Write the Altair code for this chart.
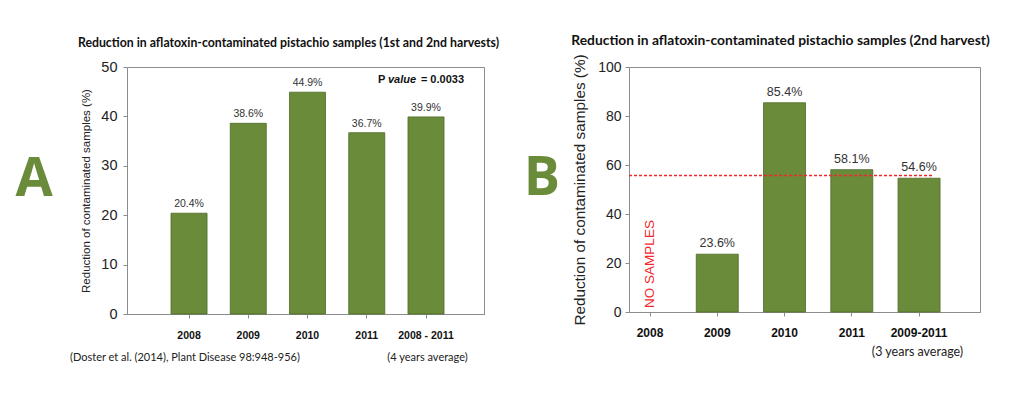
import altair as alt
import pandas as pd

# ---------------- data ----------------
cats_a = ["2008", "2009", "2010", "2011", "2008 - 2011"]
vals_a = [20.4, 38.6, 44.9, 36.7, 39.9]
labels_a = ["20.4%", "38.6%", "44.9%", "36.7%", "39.9%"]

cats_b = ["2008", "2009", "2010", "2011", "2009-2011"]
bar_cats_b = ["2009", "2010", "2011", "2009-2011"]
vals_b = [23.6, 85.4, 58.1, 54.6]
labels_b = ["23.6%", "85.4%", "58.1%", "54.6%"]
avg_b = 55.7

title_a = "Reduction in aflatoxin-contaminated pistachio samples (1st and 2nd harvests)"
title_b = "Reduction in aflatoxin-contaminated pistachio samples (2nd harvest)"
y_title = "Reduction of contaminated samples (%)"
note_a = "(Doster et al. (2014), Plant Disease 98:948-956)"
note_a2 = "(4 years average)"
note_b = "(3 years average)"
no_samples = "NO SAMPLES"

# ---------------- styles ----------------
GREEN = "#6a8b3a"
EDGE = "#4d6a27"
GRAY = "#8c8c8c"
RED = "#f0282d"
ARIAL = "Liberation Sans"
MYRIAD = "Lato"

df_a = pd.DataFrame({"cat": cats_a, "val": vals_a, "lab": labels_a})
df_b = pd.DataFrame({"cat": bar_cats_b, "val": vals_b, "lab": labels_b})


def note(text, x, y, **kw):
    return alt.Chart(pd.DataFrame({"t": [text]})).mark_text(**kw).encode(
        x=alt.value(x), y=alt.value(y), text="t:N"
    )


# ---------------- panel A ----------------
xa = alt.X(
    "cat:N",
    sort=cats_a,
    scale=alt.Scale(domain=cats_a, paddingInner=0.392, paddingOuter=0.709, align=0.524),
    axis=alt.Axis(
        title=None, labelAngle=0, labelFont=ARIAL, labelFontWeight="bold",
        labelFontSize=10.5, labelColor="#111", labelPadding=12, tickSize=4,
        tickColor=GRAY, domainColor=GRAY,
    ),
)
ya = alt.Y(
    "val:Q",
    scale=alt.Scale(domain=[0, 50]),
    axis=alt.Axis(
        title=y_title, values=[0, 10, 20, 30, 40, 50], grid=False,
        labelFont=ARIAL, labelFontSize=14.5, labelColor="#222", labelPadding=6,
        titleFont=ARIAL, titleFontSize=11.5, titleFontWeight="normal",
        titleColor="#222", titlePadding=9, tickSize=4, tickColor=GRAY,
        domainColor=GRAY,
    ),
)
base_a = alt.Chart(df_a).encode(x=xa, y=ya)
bars_a = base_a.mark_bar(color=GREEN, stroke=EDGE, strokeWidth=0.8)
text_a = base_a.mark_text(
    baseline="bottom", dy=-4, font=ARIAL, fontSize=10.5, color="#333"
).encode(text="lab:N")

ann_a = [
    note(title_a, 161.5, -24, font=MYRIAD, fontSize=12.3, fontWeight="bold",
         color="#111", align="center", baseline="middle"),
    note("P ", 251, 13, font=ARIAL, fontSize=11, fontWeight="bold",
         color="#111", align="left", baseline="middle"),
    note("value", 261, 13, font=ARIAL, fontSize=11, fontWeight="bold",
         fontStyle="italic", color="#111", align="left", baseline="middle"),
    note("= 0.0033", 337, 13, font=ARIAL, fontSize=11, fontWeight="bold",
         color="#111", align="right", baseline="middle"),
    note(note_a, -57, 291, font=MYRIAD, fontSize=11, color="#222",
         align="left", baseline="middle"),
    note(note_a2, 300.5, 291, font=MYRIAD, fontSize=11, color="#222",
         align="center", baseline="middle"),
    note("A", -93, 129, font="Open Sans", fontSize=54, fontWeight="bold",
         color=GREEN, align="center", baseline="alphabetic"),
]

panel_a = alt.layer(bars_a, text_a, *ann_a).properties(width=357, height=247)

# ---------------- panel B ----------------
xb = alt.X(
    "cat:N",
    sort=cats_b,
    scale=alt.Scale(domain=cats_b, paddingInner=0.3755, paddingOuter=0.297, align=0),
    axis=alt.Axis(
        title=None, labelAngle=0, labelFont=ARIAL, labelFontWeight="bold",
        labelFontSize=12, labelColor="#111", labelPadding=11, tickSize=4,
        tickColor=GRAY, domainColor=GRAY,
    ),
)
yb = alt.Y(
    "val:Q",
    scale=alt.Scale(domain=[0, 100]),
    axis=alt.Axis(
        title=y_title, values=[0, 20, 40, 60, 80, 100], grid=False,
        labelFont=ARIAL, labelFontSize=14, labelColor="#222", labelPadding=4,
        titleFont=ARIAL, titleFontSize=15.3, titleFontWeight="normal",
        titleColor="#222", titlePadding=10, tickSize=4, tickColor=GRAY,
        domainColor=GRAY,
    ),
)
base_b = alt.Chart(df_b).encode(x=xb, y=yb)
bars_b = base_b.mark_bar(color=GREEN, stroke=EDGE, strokeWidth=0.8)
text_b = base_b.mark_text(
    baseline="bottom", dy=-4, font=ARIAL, fontSize=12.5, color="#333"
).encode(text="lab:N")

rule_b = alt.Chart(pd.DataFrame({"val": [avg_b]})).mark_rule(
    color=RED, strokeDash=[3, 2], strokeWidth=1.4
).encode(y="val:Q", x=alt.value(0), x2=alt.value(305))

nos_b = alt.Chart(pd.DataFrame({"cat": [cats_b[0]], "t": [no_samples]})).mark_text(
    angle=270, font=ARIAL, fontSize=13.5, color=RED, align="center", baseline="middle"
).encode(x=alt.X("cat:N"), y=alt.value(197), text="t:N")

ann_b = [
    note(title_b, 151.5, -26, font=MYRIAD, fontSize=13.8, fontWeight="bold",
         color="#111", align="center", baseline="middle"),
    note(note_b, 288.5, 285, font=MYRIAD, fontSize=12.5, color="#222",
         align="center", baseline="middle"),
    note("B", -87, 128, font="Open Sans", fontSize=54, fontWeight="bold",
         color=GREEN, align="center", baseline="alphabetic"),
]

panel_b = alt.layer(bars_b, text_b, rule_b, nos_b, *ann_b).properties(width=351, height=245)

chart = (
    alt.hconcat(panel_a, panel_b, spacing=23)
    .properties(padding={"left": 6, "top": 25, "right": 0, "bottom": 0}, background="white")
    .configure_view(stroke=GRAY, strokeWidth=1)
)

chart.save("out.html", embed_options={"renderer": "svg", "actions": False})
